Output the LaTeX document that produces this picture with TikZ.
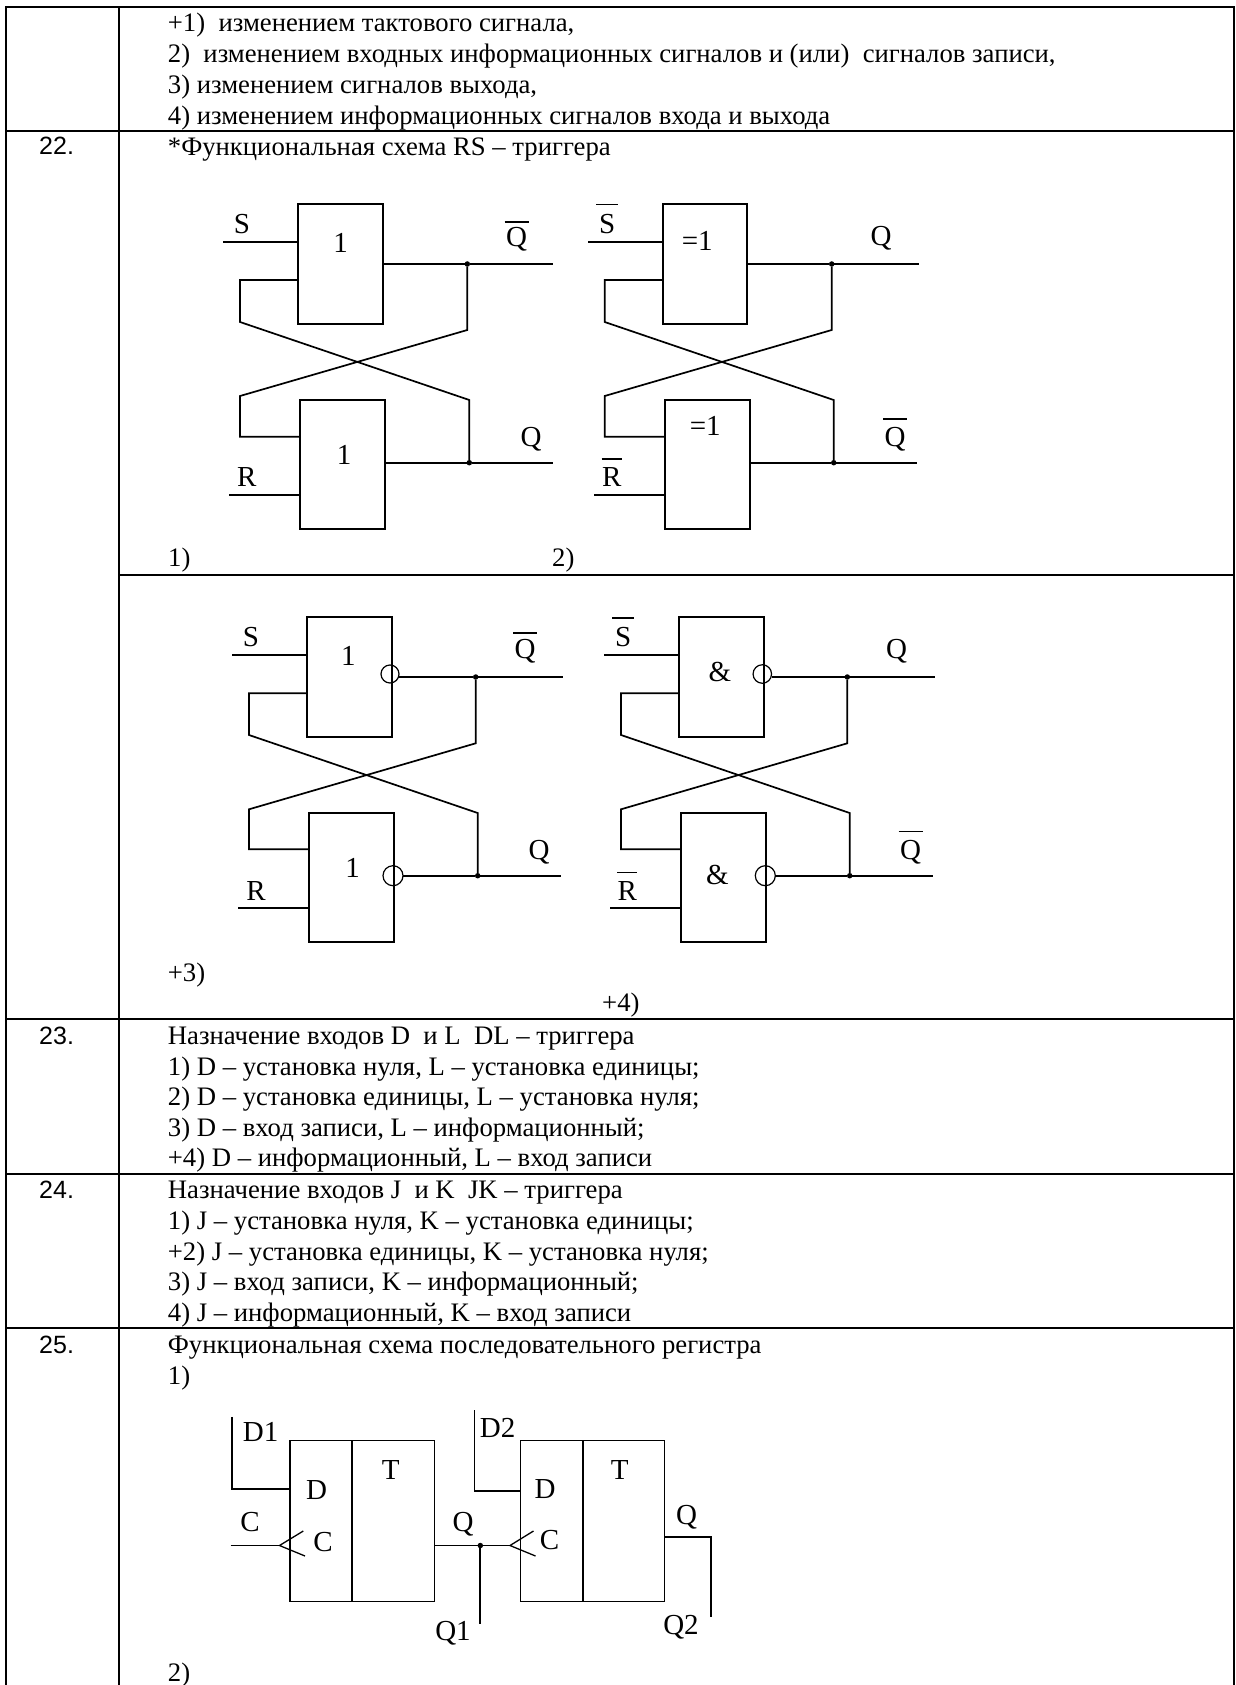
\documentclass[tikz,border=0pt]{standalone}
\usepackage{fontspec}
\setmainfont{Liberation Serif}
\newfontfamily\arialfont{Liberation Sans}
\newcommand\lbar[3]{\makebox[#3]{#2}\llap{\smash{\raisebox{#1}{\rule{#3}{1.5pt}}}}}
\begin{document}
\begin{tikzpicture}[x=1pt,y=-1pt,
  rule/.style={line width=2pt,line cap=rect},
  wire/.style={line width=1.7pt},
  gate/.style={draw,line width=1.7pt,minimum width=#1,inner sep=0pt,outer sep=0pt},
  bub/.style={draw,circle,line width=1.2pt,minimum size=#1,inner sep=0pt,outer sep=0pt},
  jdot/.style={fill,circle,minimum size=5.5pt,inner sep=0pt,outer sep=0pt},
  txt/.style={anchor=base west,inner sep=0pt,font=\fontsize{26.7}{27}\selectfont},
  numtxt/.style={anchor=base west,inner sep=0pt,font=\arialfont\fontsize{25}{25}\selectfont},
  lab/.style={inner sep=0pt,font=\fontsize{29}{29}\selectfont}]
\useasboundingbox (0,0) rectangle (1235,1685);
\fill[white] (0,0) rectangle (1235,1685);
% table rules
\draw[rule] (6,1685) -- (6,6.7) -- (1233.5,6.7) -- (1233.5,1685);
\draw[rule] (119,6.7) -- (119,1685);
\draw[rule] (6,130.7) -- (1233.5,130.7);
\draw[rule] (119,574.8) -- (1233.5,574.8);
\draw[rule] (6,1019) -- (1233.5,1019);
\draw[rule] (6,1174) -- (1233.5,1174);
\draw[rule] (6,1327.7) -- (1233.5,1327.7);
% table text
\node[txt] (t1) at (167.7,31.7) {+1)\ \ изменением тактового сигнала,};
\node[txt] (t2) at (167.7,62.5) {2)\ \ изменением входных информационных сигналов и (или)\ \ сигналов записи,};
\node[txt] (t3) at (167.7,93.5) {3) изменением сигналов выхода,};
\node[txt] (t4) at (167.7,124.5) {4) изменением информационных сигналов входа и выхода};
\node[numtxt] (n22) at (39,155) {22.};
\node[txt] (t5) at (167.7,155.5) {*Функциональная схема RS – триггера};
\node[txt] (o1) at (168,566) {1)};
\node[txt] (o2) at (552,566) {2)};
\node[txt] (o3) at (167.7,981.7) {+3)};
\node[txt] (o4) at (602,1011.7) {+4)};
\node[numtxt] (n23) at (39,1044) {23.};
\node[txt] (t6) at (167.7,1044) {Назначение входов D\ \ и L\ \ DL – триггера};
\node[txt] (t7) at (167.7,1075) {1) D – установка нуля, L – установка единицы;};
\node[txt] (t8) at (167.7,1105.5) {2) D – установка единицы, L – установка нуля;};
\node[txt] (t9) at (167.7,1136) {3) D – вход записи, L – информационный;};
\node[txt] (t10) at (167.7,1166.5) {+4) D – информационный, L – вход записи};
\node[numtxt] (n24) at (39,1198) {24.};
\node[txt] (t11) at (167.7,1198) {Назначение входов J\ \ и K\ \ JK – триггера};
\node[txt] (t12) at (167.7,1229) {1) J – установка нуля, K – установка единицы;};
\node[txt] (t13) at (167.7,1260) {+2) J – установка единицы, K – установка нуля;};
\node[txt] (t14) at (167.7,1290) {3) J – вход записи, K – информационный;};
\node[txt] (t15) at (167.7,1321) {4) J – информационный, K – вход записи};
\node[numtxt] (n25) at (39,1353) {25.};
\node[txt] (t16) at (167.7,1353) {Функциональная схема последовательного регистра};
\node[txt] (t17) at (167.7,1384) {1)};
\node[txt] (t18) at (167.7,1681.5) {2)};

% ---- diagram 1
\node[gate=85pt,minimum height=120.3pt] (a1) at (340.8,264.15) {};
\node[gate=85.3pt,minimum height=128.7pt] (a2) at (342.65,464.65) {};
\node[jdot] (a1d) at (467.3,264) {};
\node[jdot] (a2d) at (469.3,462.7) {};
\coordinate (a1i) at (223.3,242.3);
\coordinate (a2i) at (229.3,494.7);
\coordinate (a1o) at (552.7,264);
\coordinate (a2o) at (552.7,462.7);
\draw[wire] (a1i) -- (a1i -| a1.west);
\draw[wire] (a2i) -- (a2i -| a2.west);
\draw[wire] (a1d -| a1.east) -- (a1d) -- (a1o);
\draw[wire] (a2d -| a2.east) -- (a2d) -- (a2o);
\draw[wire] (a1.west |- 0,280) -- (240,280) -- (240,322) -- (469.3,400) -- (a2d);
\draw[wire] (a1d) -- (467.3,330) -- (240,396) -- (240,436.7) -- (a2.west |- 0,436.7);
\node[lab] (a1s) at (242,224.3) {S};
\node[lab] (a1q) at (516.7,239.3) {\lbar{24pt}{Q}{24pt}};
\node[lab] (a1n) at (340.7,242.7) {1};
\node[lab] (a2n) at (344,455) {1};
\node[lab] (a2q) at (531,439.3) {Q};
\node[lab] (a2r) at (246.7,477.3) {R};
% ---- diagram 2
\node[gate=84.3pt,minimum height=120.3pt] (b1) at (705.15,264.15) {};
\node[gate=85pt,minimum height=128.7pt] (b2) at (707.5,464.65) {};
\node[jdot] (b1d) at (831.7,264) {};
\node[jdot] (b2d) at (833.7,462.7) {};
\coordinate (b1i) at (588.3,242.3);
\coordinate (b2i) at (594,494.7);
\coordinate (b1o) at (918.7,264);
\coordinate (b2o) at (916.7,462.7);
\draw[wire] (b1i) -- (b1i -| b1.west);
\draw[wire] (b2i) -- (b2i -| b2.west);
\draw[wire] (b1d -| b1.east) -- (b1d) -- (b1o);
\draw[wire] (b2d -| b2.east) -- (b2d) -- (b2o);
\draw[wire] (b1.west |- 0,280) -- (604.7,280) -- (604.7,322) -- (833.7,400) -- (b2d);
\draw[wire] (b1d) -- (831.7,330) -- (604.7,396) -- (604.7,436.7) -- (b2.west |- 0,436.7);
\node[lab] (b1s) at (607.3,224.3) {\lbar{28.5pt}{S}{22pt}};
\node[lab] (b1n) at (697.3,240.7) {=1};
\node[lab] (b1q) at (881,238.3) {Q};
\node[lab] (b2n) at (705.3,426) {=1};
\node[lab] (b2q) at (895,439.3) {\lbar{27pt}{Q}{24pt}};
\node[lab] (b2r) at (611.7,477.3) {\lbar{27pt}{R}{20pt}};
% ---- diagram 3
\node[gate=84.7pt,minimum height=120.3pt] (c1) at (349.65,676.85) {};
\node[gate=84.7pt,minimum height=128.7pt] (c2) at (351.35,877.35) {};
\node[bub=18pt] (c1b) at (390,674) {};
\node[bub=20pt] (c2b) at (393,875.7) {};
\node[jdot] (c1d) at (475.7,677) {};
\node[jdot] (c2d) at (477.7,875.7) {};
\coordinate (c1i) at (232.3,655);
\coordinate (c2i) at (238.3,907.7);
\coordinate (c1o) at (562.7,677);
\coordinate (c2o) at (560.7,875.7);
\draw[wire] (c1i) -- (c1i -| c1.west);
\draw[wire] (c2i) -- (c2i -| c2.west);
\draw[wire] (c1b.east |- c1d) -- (c1d) -- (c1o);
\draw[wire] (c2b.east |- c2d) -- (c2d) -- (c2o);
\draw[wire] (c1.west |- 0,693.3) -- (249,693.3) -- (249,735) -- (477.7,813) -- (c2d);
\draw[wire] (c1d) -- (475.7,743.3) -- (249,809.3) -- (249,849.3) -- (c2.west |- 0,849.3);
\node[lab] (c1s) at (251,637.3) {S};
\node[lab] (c1n) at (348.3,655.7) {1};
\node[lab] (c1q) at (525,651.7) {\lbar{25.3pt}{Q}{24pt}};
\node[lab] (c2n) at (352.7,867.7) {1};
\node[lab] (c2q) at (539,852.3) {Q};
\node[lab] (c2r) at (256,890.7) {R};
% ---- diagram 4
\node[gate=84.7pt,minimum height=120.3pt] (d1) at (721.35,676.85) {};
\node[gate=84.7pt,minimum height=128.7pt] (d2) at (723.35,877.35) {};
\node[bub=18.5pt] (d1b) at (762.3,674) {};
\node[bub=20pt] (d2b) at (765.3,875.7) {};
\node[jdot] (d1d) at (847.3,677) {};
\node[jdot] (d2d) at (849.7,875.7) {};
\coordinate (d1i) at (604.3,655);
\coordinate (d2i) at (610,907.7);
\coordinate (d1o) at (934.7,677);
\coordinate (d2o) at (932.7,875.7);
\draw[wire] (d1i) -- (d1i -| d1.west);
\draw[wire] (d2i) -- (d2i -| d2.west);
\draw[wire] (d1b.east |- d1d) -- (d1d) -- (d1o);
\draw[wire] (d2b.east |- d2d) -- (d2d) -- (d2o);
\draw[wire] (d1.west |- 0,693.3) -- (621,693.3) -- (621,735) -- (849.7,813) -- (d2d);
\draw[wire] (d1d) -- (847.3,743.3) -- (621,809.3) -- (621,849.3) -- (d2.west |- 0,849.3);
\node[lab] (d1s) at (623.3,637.3) {\lbar{28pt}{S}{22pt}};
\node[lab] (d1n) at (720,671.7) {\&};
\node[lab] (d1q) at (896.7,651.7) {Q};
\node[lab] (d2n) at (717.3,875) {\&};
\node[lab] (d2q) at (910.7,852.3) {\lbar{27.5pt}{Q}{24pt}};
\node[lab] (d2r) at (627.3,890.7) {\lbar{27pt}{R}{20pt}};
% ---- register
\node[gate=144.5pt,minimum height=161pt] (e1) at (362.1,1521.1) {};
\node[gate=144.1pt,minimum height=161pt] (e2) at (592.55,1521.1) {};
\draw[wire] (352.3,1440.6) -- (352.3,1601.6);
\draw[wire] (582.7,1440.6) -- (582.7,1601.6);
\coordinate (e1t) at (232,1416.8);
\coordinate (e2t) at (474.5,1410);
\coordinate (e1c) at (230.7,1545.5);
\coordinate (e1v) at (279.5,1545.5);
\coordinate (e2v) at (510,1545.5);
\node[jdot] (e1d) at (480.3,1545.5) {};
\coordinate (e1q) at (480.3,1624);
\coordinate (e2q) at (711,1617);
\draw[wire] (e1t) -- (232,1489.3) -- (232,1489.3 -| e1.west);
\draw[wire] (e2t) -- (474.5,1491) -- (474.5,1491 -| e2.west);
\draw[wire] (e1c) -- (e1v);
\draw[wire] (e1.east |- e1d) -- (e1d) -- (e2v);
\draw[wire] (e1d) -- (e1q);
\draw[wire] (e2.east |- 0,1537) -- (711,1537) -- (e2q);
\draw[line width=1.3pt] (303.3,1531) -- (e1v) -- (305,1556);
\draw[line width=1.3pt] (533.5,1531) -- (e2v) -- (535.5,1556);
\node[lab] (e1l) at (260.7,1431.7) {D1};
\node[lab] (e1a) at (316.7,1490) {D};
\node[lab] (e1b) at (390.7,1470) {T};
\node[lab] (e1e) at (250,1521.7) {C};
\node[lab] (e1f) at (323,1542) {C};
\node[lab] (e1g) at (463,1524) {Q};
\node[lab] (e1h) at (453,1633) {Q1};
\node[lab] (e2l) at (497.6,1428.4) {D2};
\node[lab] (e2a) at (545,1488.7) {D};
\node[lab] (e2b) at (619.7,1469.7) {T};
\node[lab] (e2f) at (549.6,1540) {C};
\node[lab] (e2g) at (686.6,1517) {Q};
\node[lab] (e2h) at (681,1627) {Q2};
\end{tikzpicture}
\end{document}
